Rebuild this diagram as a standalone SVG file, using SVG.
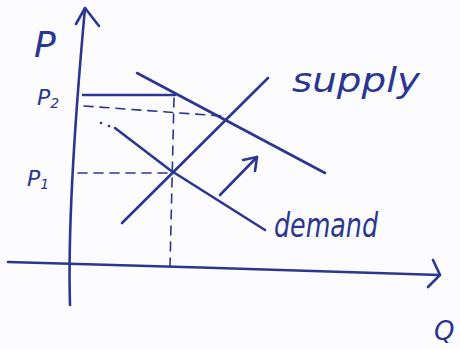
<svg xmlns="http://www.w3.org/2000/svg" width="460" height="350" viewBox="0 0 460 350">
<style>
.ink{fill:none;stroke:#2b3690;stroke-width:2.6;stroke-linecap:round;stroke-linejoin:round}
.dash{fill:none;stroke:#2b3690;stroke-width:1.6;stroke-dasharray:9 7;stroke-linecap:round}
.txt{fill:#2b3690;font-family:"DejaVu Sans",sans-serif;font-style:italic}
</style>
<rect width="460" height="350" fill="#fcfcfe"/>
<g id="axes">
<path class="ink" d="M70,305 C68,240 72,150 85,8"/>
<polyline class="ink" points="76,24 85,8 99,26"/>
<path class="ink" d="M8,262 C150,266 300,270 440,275"/>
<polyline class="ink" points="433,260 440,275 428,287"/>
</g>
<g id="guides">
<line class="ink" x1="83" y1="95" x2="175" y2="95" stroke-width="2"/>
<line class="dash" x1="84" y1="106" x2="222" y2="116"/>
<line class="dash" x1="174" y1="98" x2="170" y2="267"/>
<line class="dash" x1="78" y1="173" x2="168" y2="173"/>
</g>
<g id="curves">
<path class="ink" d="M115,128 L170,170 L265,230"/>
<circle cx="101" cy="123" r="1.3" fill="#2b3690"/>
<circle cx="109" cy="126" r="1.3" fill="#2b3690"/>
<path class="ink" d="M137,73 L325,173"/>
<path class="ink" d="M122,223 L268,78"/>
<path class="ink" d="M220,195 L257,157"/>
<polyline class="ink" points="243,160 257,157 255,171"/>
</g>
<g id="labels">
<text class="txt" x="34" y="57" font-size="36">P</text>
<text class="txt" x="37" y="105" font-size="22">P<tspan font-size="14" dy="3">2</tspan></text>
<text class="txt" x="27" y="186" font-size="22">P<tspan font-size="14" dy="3">1</tspan></text>
<text class="txt" x="292" y="92" font-size="34" textLength="128" lengthAdjust="spacingAndGlyphs">supply</text>
<text class="txt" x="274" y="237" font-size="34" textLength="104" lengthAdjust="spacingAndGlyphs">demand</text>
<text class="txt" x="434" y="340" font-size="26">Q</text>
</g>
</svg>
